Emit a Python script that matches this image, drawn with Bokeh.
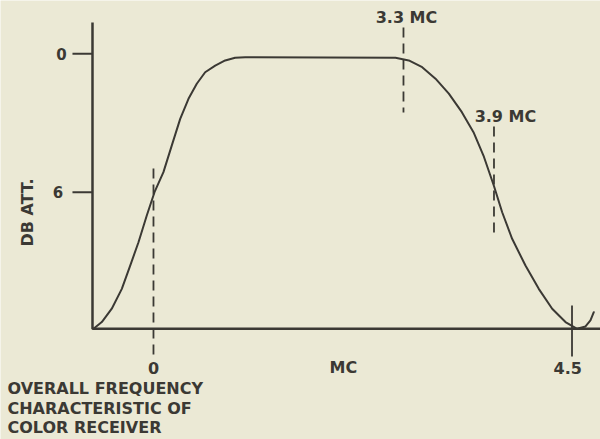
from bokeh.plotting import figure
from bokeh.models import Range1d
from bokeh.core.properties import value
from bokeh.embed import file_html
from bokeh.resources import INLINE
import math

# ---- data (MC on x, dB attenuation on y) ----
curve_mc = [-0.655, -0.644, -0.555, -0.448, -0.340, -0.250, -0.161, -0.072, 0.011, 0.107,
            0.197, 0.287, 0.376, 0.465, 0.555, 0.663, 0.770, 0.877, 0.985,
            2.599, 2.742, 2.886, 3.029, 3.172, 3.312, 3.437, 3.544, 3.655, 3.745,
            3.852, 3.995, 4.138, 4.282, 4.425, 4.550, 4.640, 4.693, 4.729]
curve_db = [11.92, 11.92, 11.63, 11.05, 10.19, 9.18, 8.17, 7.01, 6.00, 5.13,
            3.97, 2.82, 1.95, 1.30, 0.80, 0.51, 0.29, 0.17, 0.15,
            0.17, 0.29, 0.58, 1.08, 1.73, 2.53, 3.40, 4.41, 5.71, 6.87,
            8.02, 9.18, 10.19, 11.05, 11.63, 11.92, 11.82, 11.56, 11.20]

y_ticks = [0, 6]
y_tick_labels = ["0", "6"]

marker_mc = [0.0, 2.685, 3.657]
marker_top = [4.97, -1.14, 3.15]
marker_bottom = [13.21, 2.54, 7.79]
marker_labels = ["3.3 MC", "3.9 MC"]

end_tick_mc = 4.495
x_labels = ["0", "MC", "4.5"]
x_label_mc = [0.0, 2.04, 4.449]

caption = ["OVERALL FREQUENCY", "CHARACTERISTIC OF", "COLOR RECEIVER"]
y_title = "DB ATT."

INK = "#3b3934"
BG = "#ebe9d5"
FONT = value("DejaVu Sans")

p = figure(width=600, height=439, output_backend="svg", toolbar_location=None,
           x_range=Range1d(-1.643, 4.801), y_range=Range1d(16.72, -2.310),
           x_axis_type=None, y_axis_type=None, min_border=0,
           background_fill_color=BG, border_fill_color=BG, outline_line_color=None)
p.grid.visible = False

# axes
axis_x0 = curve_mc[0]
axis_y0 = curve_db[0]
p.segment(x0=[axis_x0], y0=[-1.357], x1=[axis_x0], y1=[axis_y0], line_color=INK, line_width=2.5)
p.segment(x0=[axis_x0], y0=[axis_y0], x1=[4.9], y1=[axis_y0], line_color=INK, line_width=2.5)
p.segment(x0=[-0.870] * len(y_ticks), y0=y_ticks, x1=[axis_x0] * len(y_ticks), y1=y_ticks,
          line_color=INK, line_width=2)
p.text(x=[-0.988, -1.026], y=y_ticks, text=y_tick_labels, text_font=FONT, text_font_size="15px",
       text_font_style="bold", text_color=INK, text_align="center", text_baseline="middle")

# curve
p.line(curve_mc, curve_db, line_color=INK, line_width=2, line_join="round", line_cap="round")

# dashed markers
p.segment(x0=marker_mc, y0=marker_top, x1=marker_mc, y1=marker_bottom,
          line_color=INK, line_width=1.8, line_dash="10 6")
p.segment(x0=[end_tick_mc], y0=[10.91], x1=[end_tick_mc], y1=[13.12], line_color=INK, line_width=1.8)

p.text(x=[2.717, 3.78], y=[-1.573, 2.74], text=marker_labels, text_font=FONT,
       text_font_size="16px", text_font_style="bold", text_color=INK,
       text_align="center", text_baseline="middle")

p.text(x=x_label_mc, y=[13.6] * 3, text=x_labels, text_font=FONT, text_font_size="16px",
       text_font_style="bold", text_color=INK, text_align="center", text_baseline="middle")

p.text(x=[-1.349], y=[6.88], text=[y_title], angle=math.pi / 2, text_font=FONT,
       text_font_size="16px", text_font_style="bold", text_color=INK,
       text_align="center", text_baseline="middle")

p.text(x=[-1.568] * 3, y=[14.50, 15.37, 16.22], text=caption, text_font=FONT,
       text_font_size="16px", text_font_style="bold", text_color=INK,
       text_align="left", text_baseline="middle")

open("out.html", "w").write(file_html(p, INLINE))
